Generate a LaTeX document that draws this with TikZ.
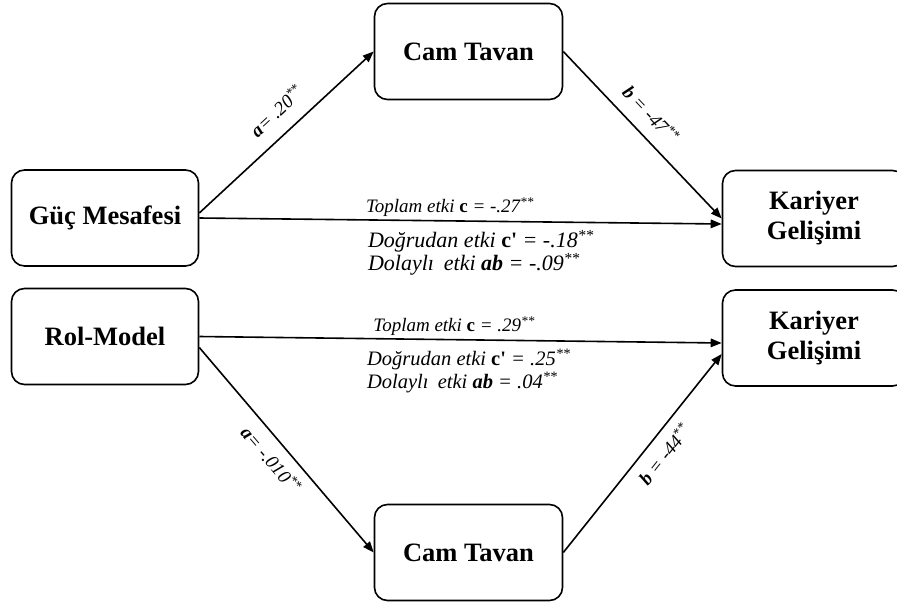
\documentclass[tikz,border=0pt]{standalone}
\usepackage{fontspec}
\setmainfont{Liberation Serif}
\usetikzlibrary{arrows.meta}

\begin{document}
\begin{tikzpicture}[x=1pt, y=-1pt,
	varbox/.style={draw=black, line width=1.6pt, rounded corners=13pt, minimum width=187pt, minimum height=96pt, align=center, font=\fontsize{26.5}{30}\selectfont\bfseries},
	effect/.style={line width=1.6pt, -{Triangle[length=11pt, width=8.5pt]}},
	coef/.style={font=\fontsize{19}{23}\selectfont\itshape},
	split/.style={align=left, font=\fontsize{#1}{23}\selectfont\itshape}]
	\clip (0,0) rectangle (897,605);
	\node[varbox] (gm) at (105,218) {Güç Mesafesi};
	\node[varbox] (rm) at (105,336.5) {Rol-Model};
	\node[varbox, minimum width=188pt] (ct1) at (468.5,51.5) {Cam Tavan};
	\node[varbox, minimum width=188pt] (ct2) at (468.5,552.5) {Cam Tavan};
	\node[varbox, minimum width=183pt] (kg1) at (814,218.5) {Kariyer\\Gelişimi};
	\node[varbox, minimum width=183pt] (kg2) at (814,338) {Kariyer\\Gelişimi};

	\draw[effect] ([yshift=5pt]gm.east) -- node[coef, sloped, above=11pt, pos=0.53] {\textbf{a}= .20\textsuperscript{**}} (ct1.west);
	\draw[effect] (ct1.east) -- node[coef, sloped, above=9pt, pos=0.46] {\textbf{b} = -47\textsuperscript{**}} (kg1.west);
	\draw[effect] (gm.east) -- node[coef, above, pos=0.48] {Toplam etki \textbf{\textup{c}} = -.27\textsuperscript{**}}
		node[split=22, below=5pt, pos=0.539] {Doğrudan etki \textbf{\textup{c\textquotesingle}} = -.18\textsuperscript{**}\\Dolaylı\hspace{0.45em}etki \textbf{ab} = -.09\textsuperscript{**}} ([yshift=-5.5pt]kg1.west);

	\draw[effect] (rm.east) -- node[coef, above, pos=0.488] {Toplam etki \textbf{\textup{c}} = .29\textsuperscript{**}}
		node[split=20.5, below=5pt, pos=0.516] {Doğrudan etki \textbf{\textup{c\textquotesingle}} = .25\textsuperscript{**}\\Dolaylı\hspace{0.45em}etki \textbf{ab} = .04\textsuperscript{**}} ([yshift=-5pt]kg2.west);
	\draw[effect] ([yshift=-11pt]rm.east) -- node[coef, sloped, below=6pt, pos=0.49] {\textbf{a}= -.010\textsuperscript{**}} (ct2.west);
	\draw[effect] (ct2.east) -- node[coef, sloped, below=6pt, pos=0.55] {\textbf{b} = -44\textsuperscript{**}} ([yshift=-16pt]kg2.west);
\end{tikzpicture}
\end{document}
